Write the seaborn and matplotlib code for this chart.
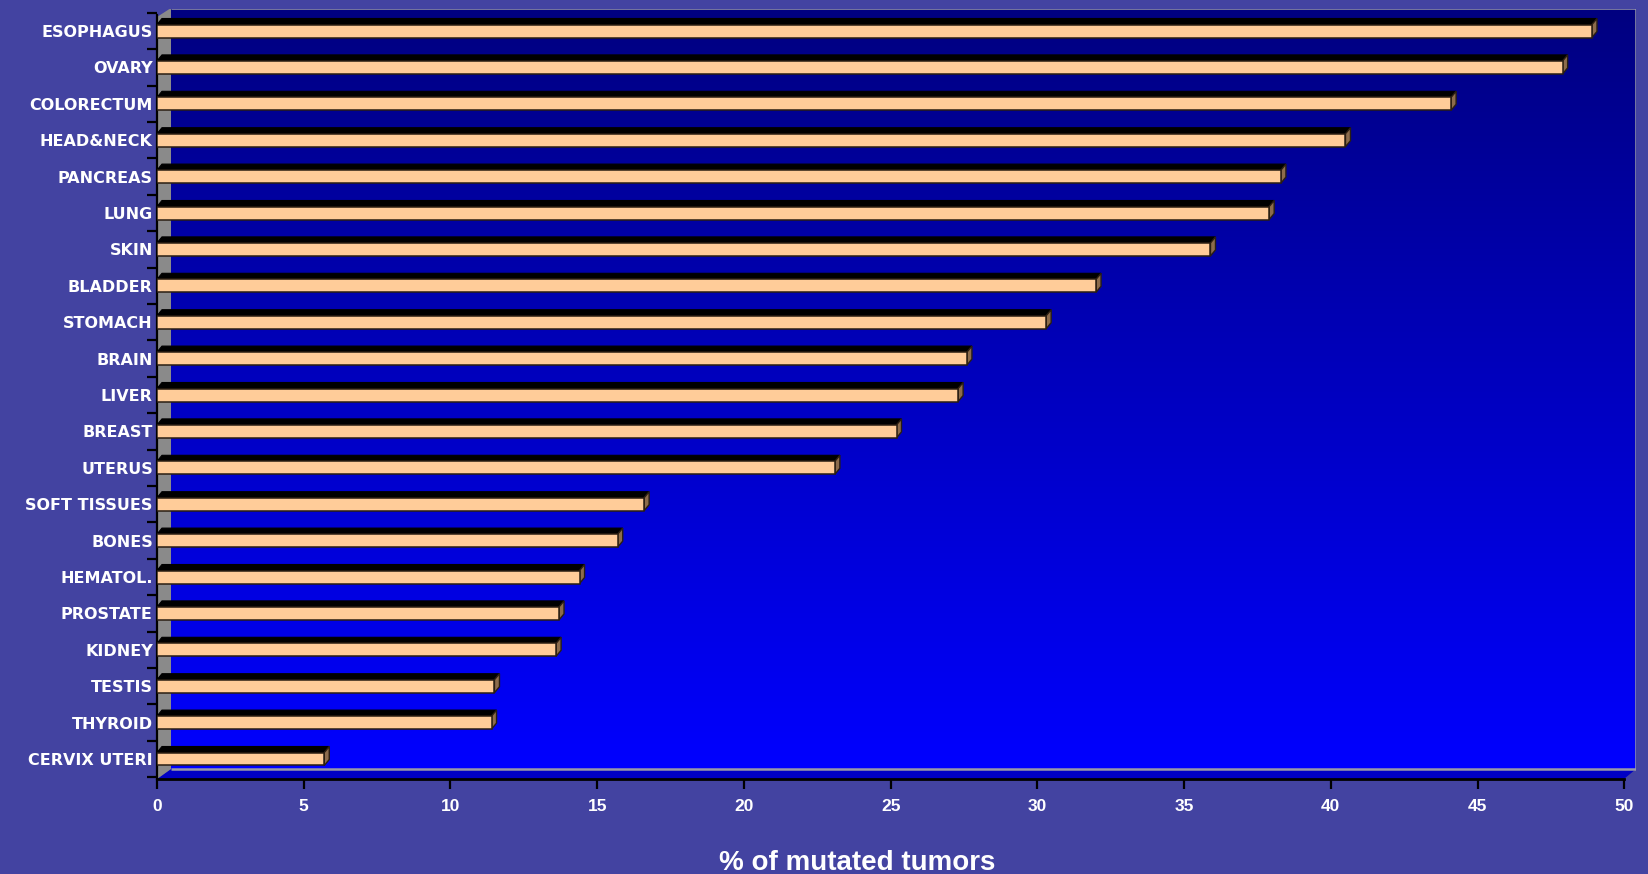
import numpy as np
import pandas as pd
import matplotlib
matplotlib.use("Agg")
import matplotlib.pyplot as plt
from matplotlib.patches import Polygon
import seaborn as sns

# Share of tumours carrying a mutation, by tumour site
sites = [
    "ESOPHAGUS", "OVARY", "COLORECTUM", "HEAD&NECK", "PANCREAS", "LUNG",
    "SKIN", "BLADDER", "STOMACH", "BRAIN", "LIVER", "BREAST", "UTERUS",
    "SOFT TISSUES", "BONES", "HEMATOL.", "PROSTATE", "KIDNEY", "TESTIS",
    "THYROID", "CERVIX UTERI",
]
pct_mutated = [
    48.9, 47.9, 44.1, 40.5, 38.3, 37.9,
    35.9, 32.0, 30.3, 27.6, 27.3, 25.2, 23.1,
    16.6, 15.7, 14.4, 13.7, 13.6, 11.5,
    11.4, 5.7,
]
x_ticks = [0, 5, 10, 15, 20, 25, 30, 35, 40, 45, 50]
x_label = "% of mutated tumors"

df = pd.DataFrame({"site": sites, "pct": pct_mutated})

# ---- styling -------------------------------------------------------------
W, H = 1648, 874
outer_bg = "#4343a1"
peach = "#ffcc99"
cap_brown = "#8c6c4c"
edge_dark = "#2a1e12"
wall_grey = "#8a8a8a"
frame_grey = "#9a9aa8"

sns.set_theme(style="white")
plt.rcParams["font.family"] = ["DejaVu Sans"]

fig = plt.figure(figsize=(W / 100, H / 100), dpi=100, facecolor=outer_bg)

# axes box in pixels: left 157, right 1636, top 9, bottom 779
ax_l, ax_r, ax_t, ax_b = 157, 1636, 9, 779
ax = fig.add_axes([ax_l / W, (H - ax_b) / H, (ax_r - ax_l) / W, (ax_b - ax_t) / H])
ax.set_facecolor(outer_bg)

xmax = 50.4
px_per_x = (ax_r - ax_l) / xmax
pitch = 36.4            # pixels between category rows
row0 = 31               # pixel row of the first bar centre
ylim_bottom = (ax_b - row0) / pitch
ylim_top = (ax_t - row0) / pitch


def px2data(px, py):
    return (px - ax_l) / px_per_x, (py - row0) / pitch


# gradient back panel
gx0, gy0 = px2data(171, 9)
gx1, gy1 = px2data(1636, 769)
grad = np.linspace(0, 1, 256)[:, None]
cols = np.zeros((256, 1, 3))
cols[..., 2] = (128 + 127 * grad) / 255.0
ax.imshow(cols, extent=[gx0, gx1, gy1, gy0], aspect="auto", zorder=0,
          interpolation="bilinear")

# floor strip under the panel
floor = [px2data(157, 779), px2data(171, 769), px2data(1636, 769), px2data(1624, 779)]
ax.add_patch(Polygon(floor, closed=True, facecolor="#0000c4", edgecolor="none", zorder=0.5))

# grey side wall on the left
wall = [px2data(157, 779), px2data(157, 17), px2data(171, 8), px2data(171, 769)]
ax.add_patch(Polygon(wall, closed=True, facecolor=wall_grey, edgecolor="none", zorder=0.6))

# thin grey frame around the back panel
corners = [px2data(171, 8), px2data(1636, 8), px2data(1636, 769), px2data(171, 769)]
ax.plot([c[0] for c in corners], [c[1] for c in corners], color=frame_grey,
        lw=1.8, zorder=0.7, solid_capstyle="butt")

# ---- bars ----------------------------------------------------------------
bar_h = 13 / pitch
dx = 5 / px_per_x
dy = 6 / pitch

sns.barplot(data=df, x="pct", y="site", orient="h", width=bar_h, color=peach,
            saturation=1, edgecolor=edge_dark, linewidth=1.1, ax=ax, zorder=3)

# top faces and end caps give the bars their depth
for i, v in enumerate(df["pct"]):
    top = i - bar_h / 2
    bot = i + bar_h / 2
    top_face = [(0, top), (v, top), (v + dx, top - dy), (dx, top - dy)]
    ax.add_patch(Polygon(top_face, closed=True, facecolor="black",
                         edgecolor="black", lw=0.8, zorder=2.5))
    cap = [(v, top), (v + dx, top - dy), (v + dx, bot - dy), (v, bot)]
    ax.add_patch(Polygon(cap, closed=True, facecolor=cap_brown,
                         edgecolor=edge_dark, lw=1.0, zorder=2.8))

# ---- axes ----------------------------------------------------------------
ax.set_xlim(0, xmax)
ax.set_ylim(ylim_bottom, ylim_top)

for s in ("top", "right"):
    ax.spines[s].set_visible(False)
ax.spines["left"].set_color("black")
ax.spines["left"].set_linewidth(1.6)
ax.spines["left"].set_bounds(ylim_bottom, px2data(157, 15)[1])
ax.spines["bottom"].set_color("black")
ax.spines["bottom"].set_linewidth(2.0)
ax.spines["bottom"].set_bounds(0, 50)

ax.set_xticks(x_ticks)
ax.set_xticklabels([str(t) for t in x_ticks],
                   fontfamily=["Liberation Sans", "DejaVu Sans"],
                   fontweight="bold", fontsize=12.5, color="white")
ax.tick_params(axis="x", which="major", direction="out", length=7.5, width=1.6,
               color="black", pad=7, bottom=True)

ax.set_yticks(range(len(sites)))
ax.set_yticklabels(sites, fontsize=11.5, fontweight="bold", color="white")
ax.tick_params(axis="y", which="major", length=0, pad=3, left=True)
ax.set_yticks(np.arange(-0.5, len(sites), 1.0), minor=True)
ax.tick_params(axis="y", which="minor", direction="out", length=7.5, width=1.6,
               color="black", left=True)

ax.set_xlabel("")
ax.set_ylabel("")
ax.grid(False)

fig.text(857 / W, (H - 870) / H, x_label, ha="center", va="baseline",
         fontsize=20, fontweight="bold", color="white",
         family=["Liberation Sans", "DejaVu Sans"])

fig.savefig("out.png", dpi=100, facecolor=outer_bg)
